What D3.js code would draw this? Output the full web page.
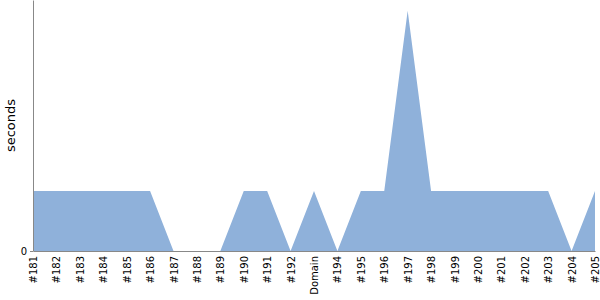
<!DOCTYPE html>
<html><head><meta charset="utf-8">
<script src="https://cdn.jsdelivr.net/npm/d3@7"></script>
<style>body{margin:0;background:#fff}svg{display:block}svg text{font-family:"DejaVu Sans",sans-serif}</style>
</head><body><svg id="c" width="600" height="300"></svg>
<script>
const categories=["#181","#182","#183","#184","#185","#186","#187","#188","#189","#190","#191","#192","Domain","#194","#195","#196","#197","#198","#199","#200","#201","#202","#203","#204","#205"];
const values=[1,1,1,1,1,1,0,0,0,1,1,0,1,0,1,1,4,1,1,1,1,1,1,0,1];
const yTicks=[0];
const svg=d3.select("#c");
const m={l:33,r:5,t:0,b:49};
const W=600,H=300;
const x=d3.scalePoint().domain(categories).range([m.l,W-m.r]);
const y=d3.scaleLinear().domain([0,4.18]).range([H-m.b,m.t]);
const data=categories.map((c,i)=>({c,v:values[i]}));
svg.append("path").datum(data)
 .attr("fill","#8fb1da")
 .attr("d",d3.area().x(d=>x(d.c)).y0(y(0)).y1(d=>y(d.v)));
const ya=svg.append("g").attr("transform",`translate(${m.l},0)`)
 .call(d3.axisLeft(y).tickValues(yTicks).tickFormat(d3.format("d")).tickSize(3).tickSizeOuter(0));
ya.attr("font-family",null);
ya.select(".domain").attr("stroke","#888");
ya.selectAll(".tick line").attr("stroke","#888");
ya.selectAll("text").attr("font-size",10).attr("fill","#000");
const xa=svg.append("g").attr("transform",`translate(0,${H-m.b})`)
 .call(d3.axisBottom(x).tickSize(0).tickSizeOuter(0));
xa.attr("font-family",null);
xa.select(".domain").attr("stroke","#888");
xa.selectAll("text").attr("font-size",10).attr("fill","#000")
 .attr("transform","rotate(-90)").attr("text-anchor","end").attr("x",-5).attr("y",0).attr("dy","0.35em");
svg.append("text").attr("transform",`translate(15,${(H-m.b)/2}) rotate(-90)`)
 .attr("text-anchor","middle").attr("font-size",13).attr("fill","#000").text("seconds");
</script></body></html>
